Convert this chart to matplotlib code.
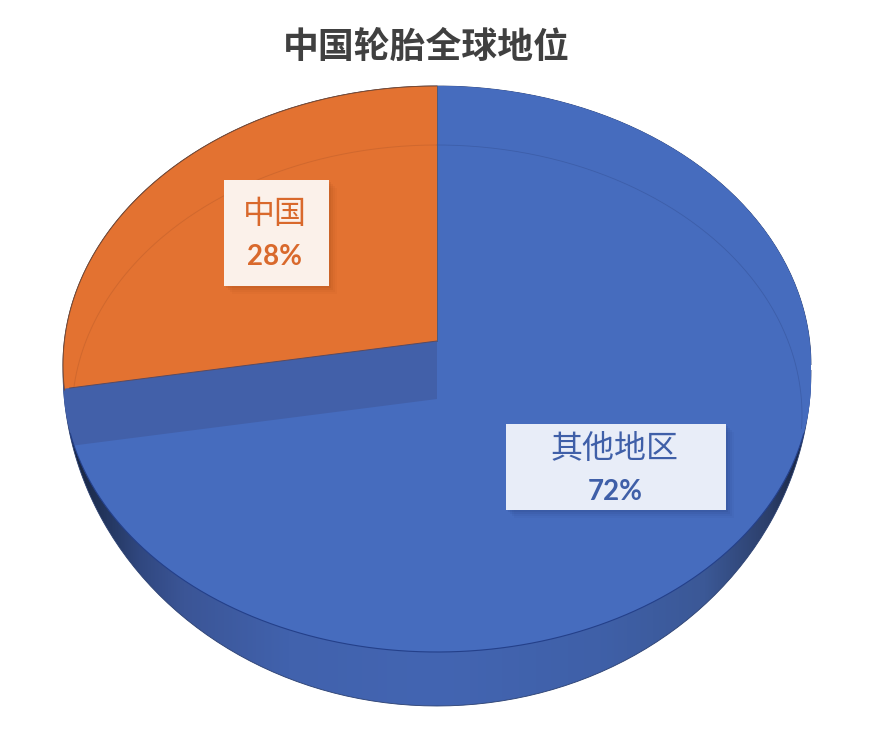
import numpy as np
import matplotlib
matplotlib.use('Agg')
import matplotlib.pyplot as plt
from matplotlib.patches import Rectangle, PathPatch
from matplotlib.path import Path
from matplotlib.colors import LinearSegmentedColormap

title = '中国轮胎全球地位'
names = ['中国', '其他地区']
shares = [28, 72]
share_text = ['28%', '72%']

ORANGE = '#e37231'
BLUE = '#466cbe'
WALL = '#4260a9'
TEXTS = ['#d9692c', '#3f5fa8']
BOXES = ['#fbf1ea', '#e8edf8']

W, H = 894, 734
CX, APEX_Y = 437, 341		# apex of the raised slice, in picture pixels
SX, SY = 374.0, 251.0		# pixels per data unit

plt.rcParams['font.family'] = ['Noto Sans CJK SC', 'DejaVu Sans']

fig = plt.figure(figsize=(W / 100, H / 100), dpi=100, facecolor='white')
ax = fig.add_axes([0, 0, 1, 1])


def px(x, y):
	return (x - CX) / SX, (APEX_Y - y) / SY


def half_outline(cy_top, ry_top, cy_low, ry_low, rx=374):
	# top half of one ellipse joined to the bottom half of another
	t = np.linspace(0, 2 * np.pi, 361)
	xs = CX + rx * np.cos(t)
	ys = np.where(np.sin(t) >= 0, cy_top - ry_top * np.sin(t), cy_low - ry_low * np.sin(t))
	x, y = px(xs, ys)
	return Path(np.column_stack([x, y]))


surface = half_outline(365, 279, 380, 272)
silhouette = half_outline(365, 279, 370, 336)

# side of the cake, dark at both ends
cmap = LinearSegmentedColormap.from_list('side', [(0, '#141f38'), (0.05, '#22345a'), (0.1, '#30477f'),
	(0.16, '#3b5596'), (0.3, '#4162ad'), (0.5, '#4365b2'), (0.72, '#3f60a8'), (0.86, '#3b5896'),
	(0.945, '#2c3f6b'), (1, '#141f38')])
x0, _ = px(63, 0)
x1, _ = px(811, 0)
_, y0 = px(0, 706)
_, y1 = px(0, 86)
side = ax.imshow(np.linspace(0, 1, 256).reshape(1, -1), cmap=cmap, extent=[x0, x1, y0, y1], aspect='auto', zorder=1)
side_patch = PathPatch(silhouette, transform=ax.transData, fc='none', ec='none')
ax.add_patch(side_patch)
side.set_clip_path(side_patch)

edge = PathPatch(silhouette, fc='none', ec='#2a3f70', lw=0.6, zorder=1.5)
ax.add_patch(edge)

# wall shows where the slice is lifted off the blue surface
ax.add_patch(PathPatch(surface, fc=WALL, ec='none', zorder=2))

# the slices, cut down to the outline afterwards
low = ax.pie(shares, startangle=90, radius=3, center=px(CX, 399), colors=[ORANGE, BLUE], frame=False)[0]
low[0].set_visible(False)
low[1].set_zorder(3)
low[1].set_linewidth(0)
low[1].set_clip_on(True)
low[1].set_clip_path(PathPatch(surface, transform=ax.transData))

high = ax.pie(shares, startangle=90, radius=3, center=px(CX, APEX_Y), colors=[ORANGE, BLUE], frame=False)[0]
high[1].set_visible(False)
high[0].set_zorder(4)
high[0].set_linewidth(0)
high[0].set_clip_on(True)
top_path = half_outline(365, 279, 365, 279)
high[0].set_clip_path(PathPatch(top_path, transform=ax.transData))

ax.set_aspect('auto')
ax.set_xlim(px(0, 0)[0], px(W, 0)[0])
ax.set_ylim(px(0, H)[1], px(0, 0)[1])
ax.axis('off')

# rim lines, only over the far half of the surface
t = np.linspace(-0.05, np.pi / 2, 150)
rx_, ry_ = px(CX + 365 * np.cos(t), 415 - 270 * np.sin(t))
ax.plot(rx_, ry_, color='#3d5ea9', lw=0.6, zorder=5)
t = np.linspace(np.pi / 2, np.pi + 0.05, 150)
rx_, ry_ = px(CX + 365 * np.cos(t), 415 - 270 * np.sin(t))
rim2 = ax.plot(rx_, ry_, color='#d0682e', lw=0.7, zorder=5)[0]
rim2.set_clip_path(high[0])
ang = np.deg2rad(90 + 360 * shares[0] / sum(shares))

# line between surface and side, lower half only
t = np.linspace(np.pi + 0.2, 2 * np.pi - 0.2, 200)
lx, ly = px(CX + 374 * np.cos(t), 380 - 272 * np.sin(t))
ax.plot(lx, ly, color='#24408a', lw=0.8, zorder=5)

# outline of the raised slice
t = np.linspace(np.pi / 2, np.pi + 0.09, 150)
ox, oy = px(CX + 374 * np.cos(t), 365 - 279 * np.sin(t))
ax.plot(ox, oy, color='#7c4a2e', lw=0.7, zorder=5)
ax.plot([0, np.cos(ang)], [0, np.sin(ang)], color='#5a4a60', lw=0.7, zorder=5)
ax.plot([0, 0], [0, (APEX_Y - 86) / SY], color='#4f5a7a', lw=0.7, zorder=5)


def label_box(l, t, r, b, face, shade):
	x, y = px(l, b)
	w, h = (r - l) / SX, (b - t) / SY
	for d, a in [(8, 0.04), (6, 0.06), (4, 0.08), (2, 0.1)]:
		ax.add_patch(Rectangle((x + d / SX, y - d / SY), w, h, fc=shade, ec='none', alpha=a, zorder=6))
	ax.add_patch(Rectangle((x, y), w, h, fc=face, ec='none', zorder=7))


label_box(224, 180, 329, 286, BOXES[0], '#8a3c10')
label_box(506, 424, 726, 510, BOXES[1], '#1c2f66')

name_pos = [(275, 214), (615, 449)]
pct_pos = [(275, 257), (615, 492)]
for i in range(len(names)):
	nx, ny = px(*name_pos[i])
	ax.text(nx, ny, names[i], ha='center', va='center', fontsize=23, color=TEXTS[i], zorder=8)
	vx, vy = px(*pct_pos[i])
	ax.text(vx, vy, share_text[i], ha='center', va='center', fontsize=20, fontweight='bold',
		family=['Lato', 'DejaVu Sans'], color=TEXTS[i], zorder=8)

tx, ty = px(426.5, 47)
ax.text(tx, ty, title, ha='center', va='center', fontsize=25.8, fontweight='bold', color='#404040', zorder=8)

fig.savefig('out.png', dpi=100, facecolor='white')
